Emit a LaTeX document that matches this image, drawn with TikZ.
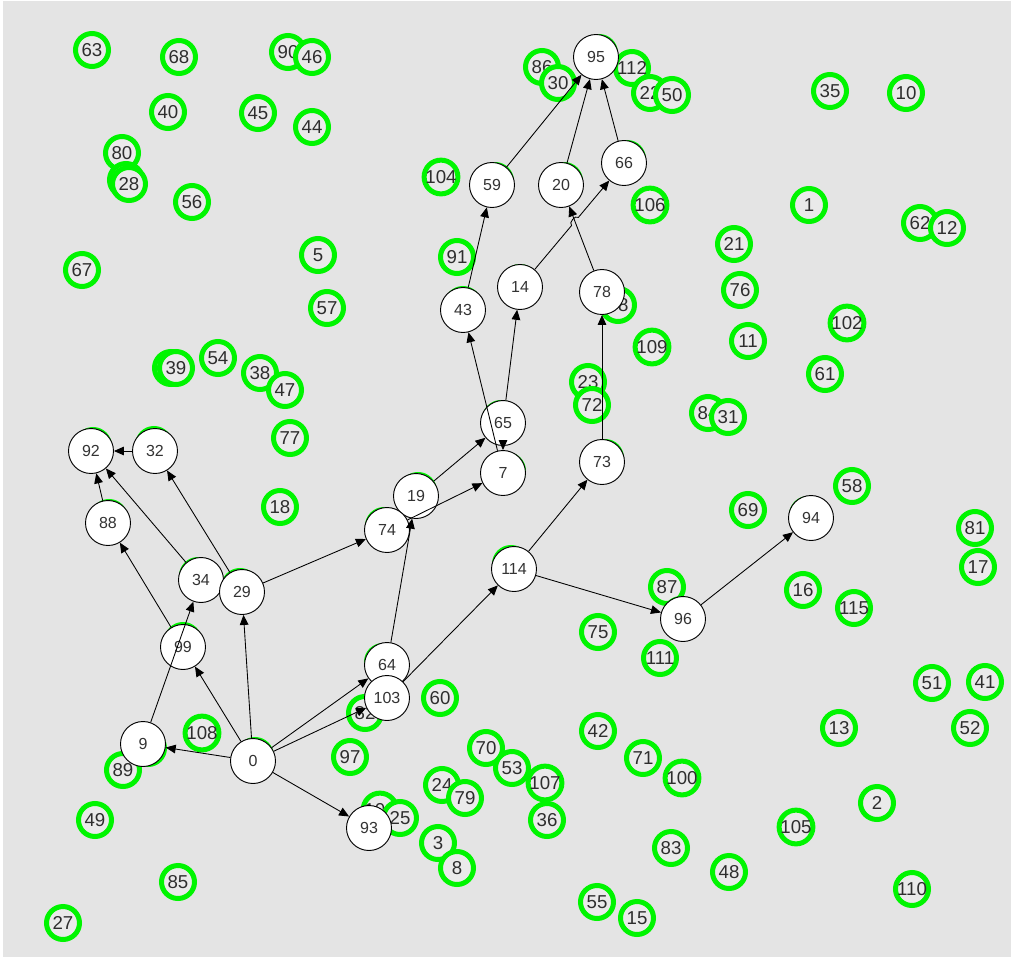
\documentclass[tikz,border=0pt]{standalone}
\usepackage{fontspec}
\setmainfont{Liberation Sans}
\usetikzlibrary{arrows.meta,calc}
\definecolor{bg}{HTML}{E4E4E4}
\definecolor{gring}{HTML}{00F500}
\definecolor{ginner}{HTML}{EAEAEA}
\tikzset{
  gnode/.style={circle, draw=gring, line width=3.75pt, fill=ginner, minimum size=24.75pt, inner sep=0pt,
    font=\fontsize{14}{14}\selectfont, text=black!82},
  gshadow/.style={circle, draw=gring, line width=3.75pt, fill=ginner, minimum size=24.75pt, inner sep=0pt},
  wnode/.style={circle, draw=black, line width=0.7pt, fill=white, minimum size=33.75pt, inner sep=0pt,
    font=\fontsize{12}{12}\selectfont, text=black!80},
  link/.style={draw=black, line width=0.65pt, -{Triangle[length=7.5pt,width=6.5pt]}},
}
\begin{document}
\begin{tikzpicture}[x=0.75pt,y=-0.75pt]
\useasboundingbox (0,0) rectangle (1011,957);
\fill[white] (0,0) rectangle (1011,957);
\fill[bg] (3,1) rectangle (1011,957);
% unselected (green) nodes
\foreach \l/\x/\y in {63/92/50, 68/179/57, 90/288/52, 46/312/57, 40/168/112, 45/258/113, 44/312/127,
  80/122/153, 26/126/180, 28/129/184, 56/192/202, 67/82/270, 5/318/255, 57/327/308,
  86/542/67, 30/558/83, 112/632/68, 22/650/93, 50/672/95, 104/441/177, 106/650/205, 91/457/257,
  98/618/305, 35/830/91, 10/906/93, 1/809/205, 62/920/223, 12/947/228, 21/734/244, 76/740/290,
  102/847/323, 33/171/368, 39/176/368, 54/218/358, 38/260/373, 47/285/390, 77/290/438, 18/280/507,
  109/652/347, 23/588/382, 72/592/405, 11/748/341, 61/825/374, 84/708/413, 31/728/417,
  58/852/486, 69/748/510, 81/975/528, 17/978/567, 16/803/590, 115/854/608, 87/667/587,
  75/598/632, 111/660/658, 108/202/733, 89/123/770, 49/95/820, 85/178/882, 27/63/923,
  60/440/698, 82/365/713, 97/350/757, 70/486/748, 53/512/768, 107/545/783, 24/442/785,
  79/465/798, 36/547/820, 101/380/810, 25/400/818, 3/438/843, 8/457/868, 42/598/731,
  71/643/758, 100/682/778, 83/671/848, 55/597/902, 15/637/918, 51/932/683, 41/985/682,
  52/970/728, 13/839/728, 2/877/803, 105/796/827, 48/729/872, 110/912/889}
  \node[gnode] (g\l) at (\x,\y) {\l};
% green shadows under path nodes
\foreach \l/\x/\y/\dx/\dy in {95/596/57/3/-4, 59/492/185/3/-4, 20/561/185/3/-4, 66/624/163/3/-4,
  14/520/287/0/-4, 78/602/292/2/-2, 43/463/310/0/-5, 65/503/423/-2/-4, 7/503/473/4/-2,
  73/602/462/3/-4, 19/416/496/2/-5, 74/387/530/-3/-4, 114/514/569/-3/-5, 96/683/619/-2/-4,
  94/811/518/-3/-3, 92/91/451/2/-5, 32/155/451/-1/-6, 88/108/523/1/-5, 34/201/580/-3/-4,
  29/242/592/-2/-5, 99/183/647/0/-6, 9/143/744/5/4, 0/253/761/2/-5, 64/387/665/-4/-3,
  103/387/698/0/0, 93/369/828/0/0}
  \node[gshadow] (s\l) at ({\x+\dx},{\y+\dy}) {};
% path nodes
\foreach \l/\x/\y in {95/596/57, 59/492/185, 20/561/185, 66/624/163, 14/520/287, 78/602/292,
  43/463/310, 65/503/423, 7/503/473, 73/602/462, 19/416/496, 74/387/530, 114/514/569,
  96/683/619, 94/811/518, 92/91/451, 32/155/451, 88/108/523, 34/201/580, 29/242/592,
  99/183/647, 9/143/744, 0/253/761, 64/387/665, 103/387/698, 93/369/828}
  \node[wnode] (w\l) at (\x,\y) {\l};
% connectors
\foreach \a/\b in {59/95, 20/95, 66/95, 78/20, 43/59, 65/14, 7/43, 65/7, 73/78,
  19/65, 74/7, 64/19, 29/74, 103/114, 114/73, 114/96, 96/94, 0/9, 0/99, 0/29, 0/64,
  0/103, 0/93, 9/34, 99/88, 88/92, 34/92, 32/92, 29/32}
  \draw[link] (w\a) -- (w\b);
% 14 -> 66 with a small hop over 78 -> 20
\coordinate (cross) at (intersection of w14--w66 and w78--w20);
\draw[link] (w14) -- ($(cross)!4pt!(w14)$) to[bend left=90] ($(cross)!4pt!(w66)$) -- (w66);
\end{tikzpicture}
\end{document}
